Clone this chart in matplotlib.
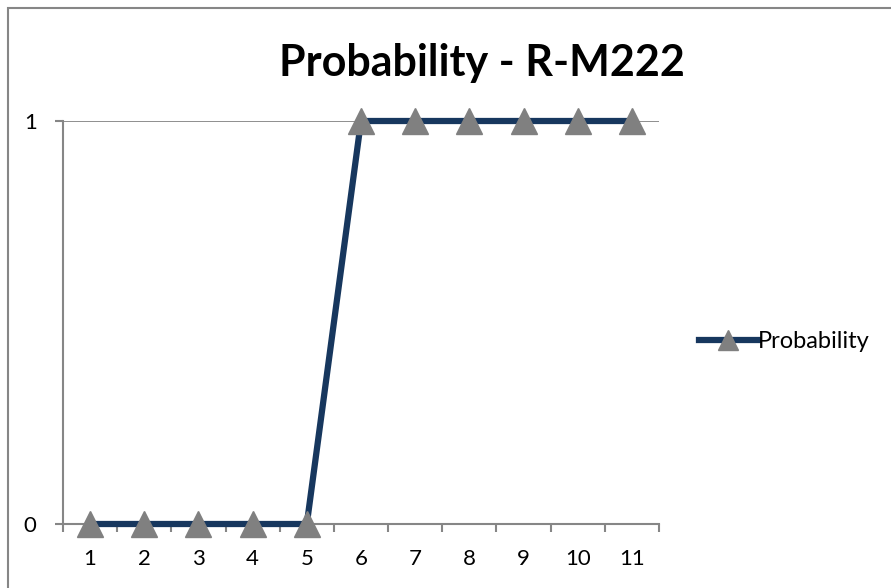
import numpy as np
import matplotlib.pyplot as plt
from matplotlib.patches import Rectangle

# data
categories = [1, 2, 3, 4, 5, 6, 7, 8, 9, 10, 11]
probability = [0, 0, 0, 0, 0, 1, 1, 1, 1, 1, 1]

plt.rcParams['font.family'] = ['Lato', 'DejaVu Sans']

fig = plt.figure(figsize=(8.91, 5.88), dpi=100)
ax = fig.add_axes([63 / 891, 1 - 524 / 588, (659 - 63) / 891, (524 - 121) / 588])

x = np.arange(1, len(categories) + 1)
ax.plot(x, probability, color='#17375E', linewidth=4.5, marker='^',
        markersize=19, markerfacecolor='#808080', markeredgecolor='#808080',
        label='Probability', clip_on=False, zorder=3)

ax.set_xlim(0.5, len(categories) + 0.5)
ax.set_ylim(0, 1)
ax.set_yticks([0, 1])
ax.set_yticklabels(['0', '1'])
ax.set_xticks(x)
ax.set_xticklabels([str(c) for c in categories])
ax.set_xticks(np.arange(0.5, len(categories) + 1), minor=True)
ax.tick_params(axis='x', which='major', length=0, pad=18, labelsize=16)
ax.tick_params(axis='x', which='minor', length=6, color='#868686', width=1.5)
ax.tick_params(axis='y', length=6, color='#868686', width=1.5, pad=13, labelsize=16)
ax.grid(axis='y', color='#868686', linewidth=1.3)

for side in ['top', 'right']:
    ax.spines[side].set_visible(False)
for side in ['left', 'bottom']:
    ax.spines[side].set_color('#868686')
    ax.spines[side].set_linewidth(1.5)

ax.legend(loc='center left', bbox_to_anchor=(687 / 891, 1 - 342 / 588),
          bbox_transform=fig.transFigure, frameon=False, fontsize=17,
          handlelength=2.5, handletextpad=0.0, borderpad=0, markerscale=0.75)

fig.text(482 / 891, 1 - 63 / 588, 'Probability - R-M222', ha='center', va='center',
         fontsize=31, fontweight='bold')

# outer chart border, cut off at the right and bottom
fig.patches.append(Rectangle((8 / 891, -0.1), 1.2, 1 - 8 / 588 + 0.1,
                             transform=fig.transFigure, fill=False,
                             edgecolor='#868686', linewidth=1.5))

fig.savefig('out.png', dpi=100)
